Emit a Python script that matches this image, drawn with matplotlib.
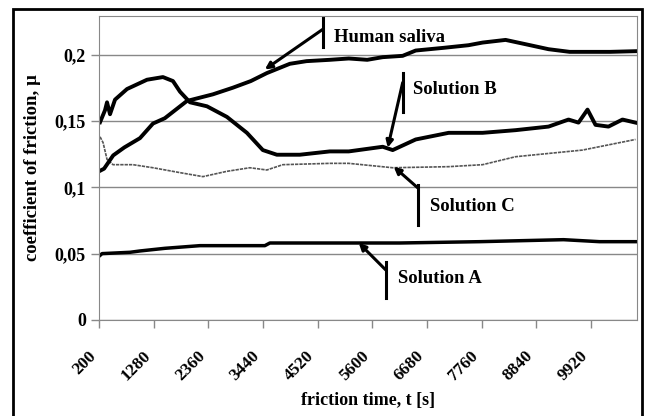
import matplotlib.pyplot as plt
from matplotlib.patches import Rectangle

plt.rcParams['font.family'] = 'Liberation Serif'
plt.rcParams['font.weight'] = 'bold'

# friction time [s] and coefficient of friction
t_saliva = [200, 300, 480, 700, 1009, 1266, 1500, 1937, 2450, 2845, 3200, 3516, 3970,
            4300, 4760, 5135, 5500, 5806, 6200, 6458, 7000, 7500, 7780, 8234, 8600,
            9083, 9500, 9873, 10300, 10800]
mu_saliva = [0.112, 0.114, 0.124, 0.130, 0.137, 0.148, 0.152, 0.165, 0.170, 0.175, 0.180,
             0.186, 0.193, 0.195, 0.196, 0.197, 0.196, 0.198, 0.199, 0.203, 0.205, 0.207,
             0.209, 0.211, 0.208, 0.204, 0.202, 0.202, 0.202, 0.2025]

t_b = [220, 318, 358, 417, 516, 753, 1148, 1463, 1661, 1800, 1996, 2332, 2727, 3122,
       3437, 3714, 4168, 4760, 5135, 5806, 6003, 6458, 7109, 7780, 8431, 9083, 9478,
       9675, 9853, 10011, 10267, 10544, 10801]
mu_b = [0.149, 0.158, 0.164, 0.155, 0.166, 0.174, 0.181, 0.183, 0.180, 0.172, 0.164,
        0.161, 0.153, 0.141, 0.128, 0.1245, 0.1245, 0.127, 0.127, 0.1305, 0.128, 0.136,
        0.141, 0.141, 0.143, 0.1457, 0.151, 0.1487, 0.1585, 0.147, 0.1457, 0.151, 0.1487]

t_c = [220, 280, 358, 476, 871, 1266, 1800, 2253, 2727, 3180, 3516, 3832, 4760, 5135,
       6003, 7109, 7780, 8431, 9754, 10801]
mu_c = [0.138, 0.1336, 0.121, 0.117, 0.117, 0.1147, 0.111, 0.108, 0.112, 0.1147, 0.113,
        0.117, 0.118, 0.118, 0.1147, 0.1155, 0.117, 0.123, 0.128, 0.136]

t_a = [200, 260, 812, 1010, 1503, 2194, 3477, 3576, 4168, 6142, 7721, 9379, 10090, 10801]
mu_a = [0.048, 0.050, 0.051, 0.052, 0.054, 0.056, 0.056, 0.058, 0.058, 0.058, 0.059,
        0.0605, 0.059, 0.059]

xticks = [200, 1280, 2360, 3440, 4520, 5600, 6680, 7760, 8840, 9920]
yticks = [0, 0.05, 0.1, 0.15, 0.2]
ylabels = ['0', '0,05', '0,1', '0,15', '0,2']

fig = plt.figure(figsize=(6.46, 4.16), dpi=100)
fig.patches.append(Rectangle((0.020, -0.01), 0.974, 0.988, transform=fig.transFigure,
                             fill=False, edgecolor='black', linewidth=2))
ax = fig.add_axes([0.1533, 0.2308, 0.8327, 0.7307])

ax.plot(t_c, mu_c, color='#555555', linewidth=1.2, linestyle=(0, (2, 0.6)))
ax.plot(t_a, mu_a, color='black', linewidth=2.5)
ax.plot(t_saliva, mu_saliva, color='black', linewidth=2.8)
ax.plot(t_b, mu_b, color='black', linewidth=2.8)

ax.set_xlim(200, 10830)
ax.set_ylim(0, 0.229)
ax.set_xticks(xticks)
ax.set_xticklabels([str(x) for x in xticks], rotation=45, ha='right', va='top',
                   fontsize=12.5)
ax.set_yticks(yticks)
ax.set_yticklabels(ylabels, fontsize=13)
ax.grid(axis='y', color='#888888', linewidth=1)
for s in ax.spines.values():
    s.set_color('#888888')
ax.tick_params(axis='both', color='#888888', length=6, width=1)
ax.tick_params(axis='x', pad=14)

ax.set_xlabel('friction time, t [s]', fontsize=13, fontweight='bold', labelpad=6)
ax.set_ylabel('coefficient of friction, \u00b5', fontsize=13.5, fontweight='bold', labelpad=10)

arrow = dict(arrowstyle='-|>', color='black', lw=2.2, mutation_scale=10, shrinkA=0, shrinkB=0)
notes = [
    ('Human saliva', (3477, 0.1887), (4622, 0.219), (0.228, 0.2053), (4850, 0.213)),
    ('Solution B', (5905, 0.1298), (6201, 0.1789), (0.1864, 0.157), (6398, 0.1736)),
    ('Solution C', (6023, 0.1155), (6497, 0.0996), (0.1019, 0.0717), (6734, 0.0853)),
    ('Solution A', (5332, 0.0581), (5866, 0.0377), (0.0438, 0.0166), (6103, 0.0309)),
]
for label, tip, tail, bar, pos in notes:
    ax.annotate('', xy=tip, xytext=tail, arrowprops=arrow)
    ax.plot([tail[0], tail[0]], bar, color='black', linewidth=2.2)
    ax.text(pos[0], pos[1], label, fontsize=13.5, ha='left', va='center')

fig.savefig('out.png', dpi=100)
